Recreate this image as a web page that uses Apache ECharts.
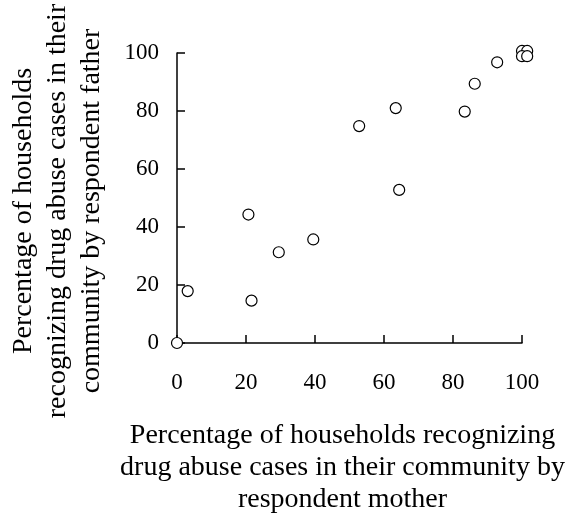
<!DOCTYPE html>
<html>
<head>
<meta charset="utf-8">
<script src="https://cdn.jsdelivr.net/npm/echarts@6/dist/echarts.min.js"></script>
<style>
html,body{margin:0;padding:0;background:#fff;}
#chart{width:571px;height:515px;}
</style>
</head>
<body>
<div id="chart"></div>
<script>
// Percentage recognizing drug abuse cases, by respondent mother (x) and father (y)
const motherPct = [0, 3.1, 20.7, 21.6, 29.5, 39.5, 52.8, 63.4, 64.4, 83.4, 86.3, 92.8, 100, 101.5, 100, 101.5];
const fatherPct = [0, 17.9, 44.3, 14.6, 31.3, 35.7, 74.8, 81.0, 52.8, 79.8, 89.4, 96.8, 100.7, 100.7, 98.9, 98.9];
const xTicks = [0, 20, 40, 60, 80, 100];
const yTicks = [0, 20, 40, 60, 80, 100];
const xTitle = 'Percentage of households recognizing\ndrug abuse cases in their community by\nrespondent mother';
const yTitle = 'Percentage of households\nrecognizing drug abuse cases in their\ncommunity by respondent father';

const points = motherPct.map((m, i) => [m, fatherPct[i]]);
const font = 'Liberation Serif';
const chart = echarts.init(document.getElementById('chart'), null, {renderer: 'canvas'});
const axisCommon = {
  min: 0, max: 100, interval: 20,
  axisLine: {show: true, onZero: false, lineStyle: {color: '#000', width: 1.5}},
  axisTick: {show: true, inside: true, length: 8, lineStyle: {color: '#000', width: 1.5}},
  splitLine: {show: false}
};
chart.setOption({
  animation: false,
  backgroundColor: '#fff',
  grid: {left: 177, right: 49, top: 53, bottom: 172, outerBoundsMode: 'none', containLabel: false},
  xAxis: Object.assign({}, axisCommon, {
    type: 'value',
    name: xTitle,
    nameLocation: 'middle',
    nameGap: 77,
    nameTextStyle: {fontFamily: font, fontSize: 28, color: '#000', lineHeight: 32, align: 'center', padding: [0, 14, 0, 0]},
    axisLabel: {fontFamily: font, fontSize: 23, color: '#000', margin: 28,
      formatter: v => xTicks.includes(v) ? String(v) : ''}
  }),
  yAxis: Object.assign({}, axisCommon, {
    type: 'value',
    name: yTitle,
    nameLocation: 'middle',
    nameGap: 68,
    nameRotate: 90,
    nameTextStyle: {fontFamily: font, fontSize: 28, color: '#000', lineHeight: 34, align: 'center', padding: [0, 26, 0, 0]},
    axisLabel: {fontFamily: font, fontSize: 23, color: '#000', margin: 18,
      formatter: v => yTicks.includes(v) ? String(v) : ''}
  }),
  series: [{
    type: 'scatter',
    data: points,
    clip: false,
    symbol: 'circle',
    symbolSize: 11,
    itemStyle: {color: '#fff', borderColor: '#000', borderWidth: 1.2, opacity: 1},
    emphasis: {disabled: true}
  }]
});
</script>
</body>
</html>
